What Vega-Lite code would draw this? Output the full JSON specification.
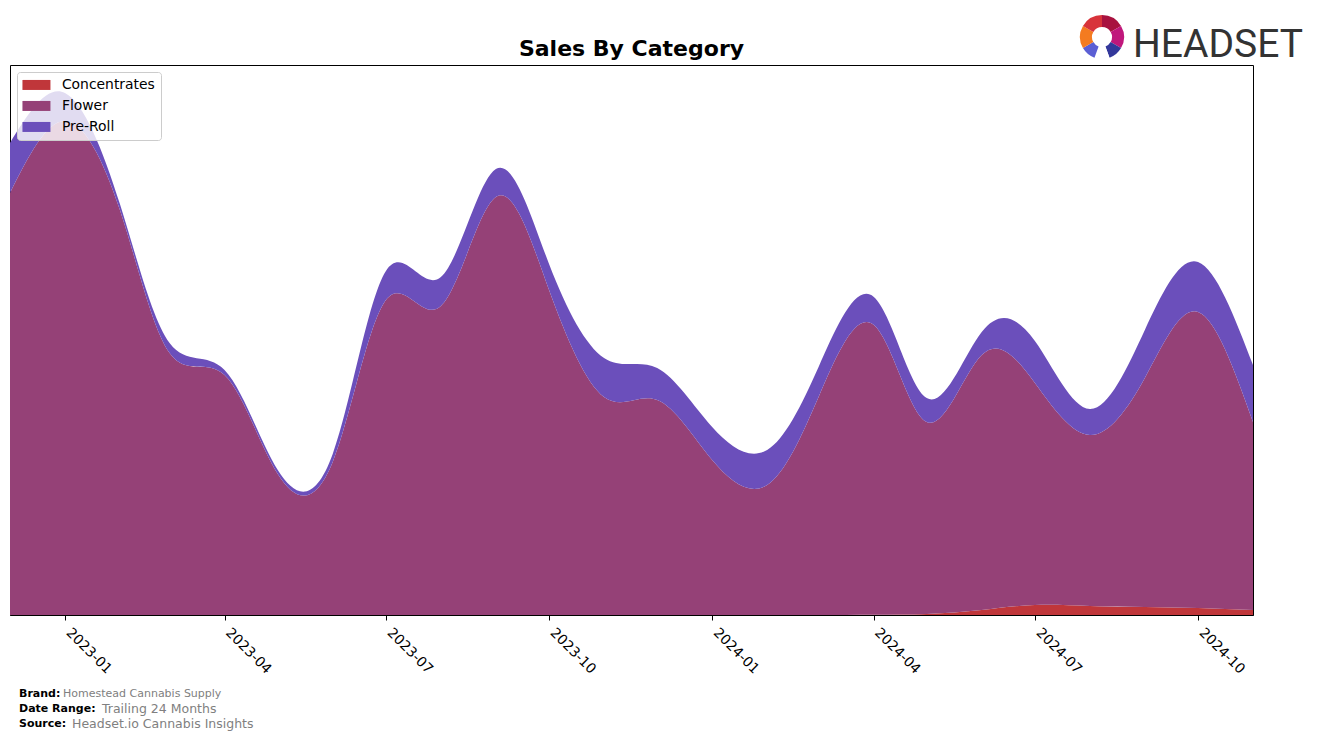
{
  "$schema": "https://vega.github.io/schema/vega-lite/v6.json",
  "width": 1243,
  "height": 550,
  "autosize": {"type": "none"},
  "padding": {"left": 10, "top": 65, "right": 64, "bottom": 125},
  "background": "white",
  "config": {
    "view": {"stroke": "black", "strokeWidth": 1},
    "font": "DejaVu Sans"
  },
  "datasets": {
    "sales": [
      {"month": "2022-12-01", "category": "Concentrates", "value": 0},
      {"month": "2022-12-01", "category": "Flower", "value": 422},
      {"month": "2022-12-01", "category": "Pre-Roll", "value": 50},
      {"month": "2023-01-01", "category": "Concentrates", "value": 0},
      {"month": "2023-01-01", "category": "Flower", "value": 494},
      {"month": "2023-01-01", "category": "Pre-Roll", "value": 28},
      {"month": "2023-02-01", "category": "Concentrates", "value": 0},
      {"month": "2023-02-01", "category": "Flower", "value": 405},
      {"month": "2023-02-01", "category": "Pre-Roll", "value": 6},
      {"month": "2023-03-01", "category": "Concentrates", "value": 0},
      {"month": "2023-03-01", "category": "Flower", "value": 262},
      {"month": "2023-03-01", "category": "Pre-Roll", "value": 10},
      {"month": "2023-04-01", "category": "Concentrates", "value": 0},
      {"month": "2023-04-01", "category": "Flower", "value": 240},
      {"month": "2023-04-01", "category": "Pre-Roll", "value": 5},
      {"month": "2023-05-01", "category": "Concentrates", "value": 0},
      {"month": "2023-05-01", "category": "Flower", "value": 141},
      {"month": "2023-05-01", "category": "Pre-Roll", "value": 4},
      {"month": "2023-06-01", "category": "Concentrates", "value": 0},
      {"month": "2023-06-01", "category": "Flower", "value": 153},
      {"month": "2023-06-01", "category": "Pre-Roll", "value": 8},
      {"month": "2023-07-01", "category": "Concentrates", "value": 0},
      {"month": "2023-07-01", "category": "Flower", "value": 315},
      {"month": "2023-07-01", "category": "Pre-Roll", "value": 29},
      {"month": "2023-08-01", "category": "Concentrates", "value": 0},
      {"month": "2023-08-01", "category": "Flower", "value": 309},
      {"month": "2023-08-01", "category": "Pre-Roll", "value": 29},
      {"month": "2023-09-01", "category": "Concentrates", "value": 0},
      {"month": "2023-09-01", "category": "Flower", "value": 418},
      {"month": "2023-09-01", "category": "Pre-Roll", "value": 28},
      {"month": "2023-10-01", "category": "Concentrates", "value": 0},
      {"month": "2023-10-01", "category": "Flower", "value": 325},
      {"month": "2023-10-01", "category": "Pre-Roll", "value": 26},
      {"month": "2023-11-01", "category": "Concentrates", "value": 0},
      {"month": "2023-11-01", "category": "Flower", "value": 218},
      {"month": "2023-11-01", "category": "Pre-Roll", "value": 39},
      {"month": "2023-12-01", "category": "Concentrates", "value": 0},
      {"month": "2023-12-01", "category": "Flower", "value": 215},
      {"month": "2023-12-01", "category": "Pre-Roll", "value": 32},
      {"month": "2024-01-01", "category": "Concentrates", "value": 0},
      {"month": "2024-01-01", "category": "Flower", "value": 155},
      {"month": "2024-01-01", "category": "Pre-Roll", "value": 33},
      {"month": "2024-02-01", "category": "Concentrates", "value": 0},
      {"month": "2024-02-01", "category": "Flower", "value": 130},
      {"month": "2024-02-01", "category": "Pre-Roll", "value": 35},
      {"month": "2024-03-01", "category": "Concentrates", "value": 0},
      {"month": "2024-03-01", "category": "Flower", "value": 218},
      {"month": "2024-03-01", "category": "Pre-Roll", "value": 30},
      {"month": "2024-04-01", "category": "Concentrates", "value": 0.3},
      {"month": "2024-04-01", "category": "Flower", "value": 290},
      {"month": "2024-04-01", "category": "Pre-Roll", "value": 28},
      {"month": "2024-05-01", "category": "Concentrates", "value": 1},
      {"month": "2024-05-01", "category": "Flower", "value": 192},
      {"month": "2024-05-01", "category": "Pre-Roll", "value": 24},
      {"month": "2024-06-01", "category": "Concentrates", "value": 5},
      {"month": "2024-06-01", "category": "Flower", "value": 255},
      {"month": "2024-06-01", "category": "Pre-Roll", "value": 23},
      {"month": "2024-07-01", "category": "Concentrates", "value": 10},
      {"month": "2024-07-01", "category": "Flower", "value": 222},
      {"month": "2024-07-01", "category": "Pre-Roll", "value": 42},
      {"month": "2024-08-01", "category": "Concentrates", "value": 9},
      {"month": "2024-08-01", "category": "Flower", "value": 171},
      {"month": "2024-08-01", "category": "Pre-Roll", "value": 26},
      {"month": "2024-09-01", "category": "Concentrates", "value": 8},
      {"month": "2024-09-01", "category": "Flower", "value": 229},
      {"month": "2024-09-01", "category": "Pre-Roll", "value": 48},
      {"month": "2024-10-01", "category": "Concentrates", "value": 7},
      {"month": "2024-10-01", "category": "Flower", "value": 296},
      {"month": "2024-10-01", "category": "Pre-Roll", "value": 50},
      {"month": "2024-11-01", "category": "Concentrates", "value": 5},
      {"month": "2024-11-01", "category": "Flower", "value": 188},
      {"month": "2024-11-01", "category": "Pre-Roll", "value": 57}
    ],
    "logo": [
      {"seg": 1, "v": 60, "c": "#a8123f"},
      {"seg": 2, "v": 60, "c": "#c0177c"},
      {"seg": 3, "v": 40, "c": "#33389b"},
      {"seg": 4, "v": 40, "c": "#ffffff"},
      {"seg": 5, "v": 40, "c": "#5b5fd4"},
      {"seg": 6, "v": 60, "c": "#f47b20"},
      {"seg": 7, "v": 60, "c": "#d8333a"}
    ]
  },
  "layer": [
    {
      "data": {"name": "sales"},
      "mark": {"type": "area", "interpolate": "natural", "opacity": 1},
      "encoding": {
        "x": {
          "field": "month", "type": "temporal",
          "scale": {"type": "utc", "domain": [{"year": 2022, "month": 12, "date": 1, "utc": true}, {"year": 2024, "month": 11, "date": 1, "utc": true}], "nice": false},
          "axis": {
            "title": null, "format": "%Y-%m",
            "tickCount": {"interval": "month", "step": 3},
            "labelAngle": 45, "labelAlign": "left", "labelBaseline": "alphabetic",
            "labelFontSize": 13.9, "labelFont": "DejaVu Sans", "labelColor": "black",
            "labelPadding": 13, "labelFlush": false, "labelOverlap": false,
            "tickColor": "black", "tickSize": 5, "domainColor": "black", "grid": false
          }
        },
        "y": {
          "field": "value", "type": "quantitative", "stack": "zero",
          "scale": {"domain": [0, 550], "nice": false, "zero": true},
          "axis": null
        },
        "color": {
          "field": "category", "type": "nominal",
          "scale": {"domain": ["Concentrates", "Flower", "Pre-Roll"], "range": ["#c0363a", "#954177", "#6b4fbb"]},
          "legend": {
            "orient": "top-left", "offset": 7, "title": null,
            "symbolType": "M-1.5,-1H4.1V1H-1.5Z", "symbolSize": 100,
            "symbolStrokeWidth": 0, "symbolOpacity": 1,
            "labelFontSize": 13.9, "labelFont": "DejaVu Sans", "labelColor": "black",
            "labelOffset": 25, "rowPadding": 6, "padding": 6,
            "strokeColor": "#cccccc", "cornerRadius": 3, "fillColor": "rgba(255,255,255,0.8)"
          }
        },
        "order": {"field": "category", "sort": "ascending"}
      }
    },
    {
      "data": {"name": "logo"},
      "mark": {"type": "arc", "radius": 22, "radius2": 10},
      "encoding": {
        "theta": {"field": "v", "type": "quantitative", "stack": true},
        "order": {"field": "seg", "type": "quantitative"},
        "fill": {"field": "c", "type": "nominal", "scale": null, "legend": null},
        "x": {"value": 1092},
        "y": {"value": -28}
      }
    },
    {
      "data": {"values": [{}]},
      "mark": {"type": "text", "text": "Sales By Category", "font": "DejaVu Sans", "fontSize": 22, "fontWeight": "bold", "color": "black", "align": "center", "baseline": "alphabetic"},
      "encoding": {"x": {"value": 621.5}, "y": {"value": -9}}
    },
    {
      "data": {"values": [{}]},
      "mark": {"type": "text", "text": "HEADSET", "font": "Roboto", "fontSize": 39, "color": "#333333", "align": "left", "baseline": "alphabetic"},
      "encoding": {"x": {"value": 1123}, "y": {"value": -8}}
    },
    {
      "data": {"values": [{}]},
      "mark": {"type": "text", "text": "Brand:", "fontSize": 11, "fontWeight": "bold", "color": "black", "align": "left", "baseline": "middle"},
      "encoding": {"x": {"value": 9}, "y": {"value": 629}}
    },
    {
      "data": {"values": [{}]},
      "mark": {"type": "text", "text": "Homestead Cannabis Supply", "fontSize": 11, "color": "#808080", "align": "left", "baseline": "middle"},
      "encoding": {"x": {"value": 53}, "y": {"value": 629}}
    },
    {
      "data": {"values": [{}]},
      "mark": {"type": "text", "text": "Date Range:", "fontSize": 11, "fontWeight": "bold", "color": "black", "align": "left", "baseline": "middle"},
      "encoding": {"x": {"value": 9}, "y": {"value": 644}}
    },
    {
      "data": {"values": [{}]},
      "mark": {"type": "text", "text": "Trailing 24 Months", "fontSize": 12.5, "color": "#808080", "align": "left", "baseline": "middle"},
      "encoding": {"x": {"value": 92}, "y": {"value": 644}}
    },
    {
      "data": {"values": [{}]},
      "mark": {"type": "text", "text": "Source:", "fontSize": 11, "fontWeight": "bold", "color": "black", "align": "left", "baseline": "middle"},
      "encoding": {"x": {"value": 9}, "y": {"value": 659}}
    },
    {
      "data": {"values": [{}]},
      "mark": {"type": "text", "text": "Headset.io Cannabis Insights", "fontSize": 12.5, "color": "#808080", "align": "left", "baseline": "middle"},
      "encoding": {"x": {"value": 62}, "y": {"value": 659}}
    }
  ]
}
